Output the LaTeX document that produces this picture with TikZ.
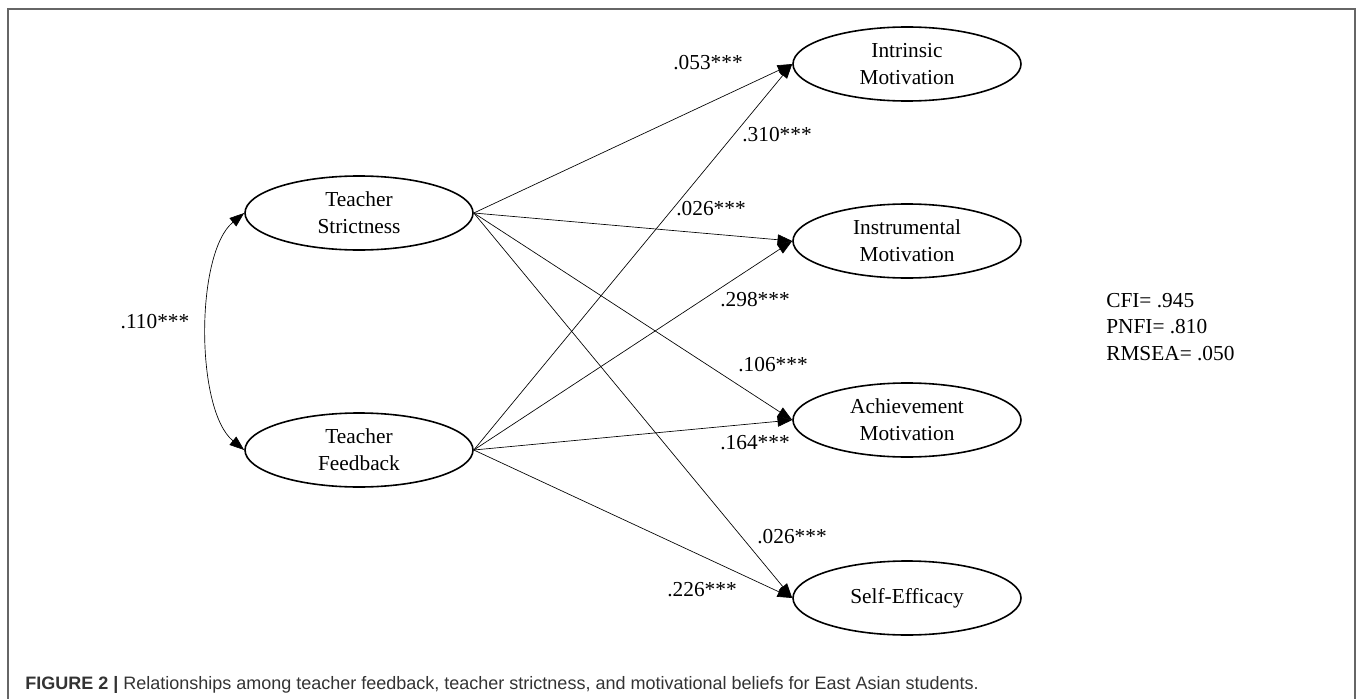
\documentclass[tikz,border=0pt]{standalone}
\usepackage{fontspec}
\setmainfont{Liberation Serif}
\newfontfamily\capfont{Liberation Sans}
\usetikzlibrary{arrows.meta,shapes.geometric,calc}
\begin{document}
\begin{tikzpicture}[x=0.75pt,y=-0.75pt,
  latent/.style={ellipse,draw,line width=1.2pt,minimum width=171pt,minimum height=55.5pt,
    inner sep=0pt,align=center,font=\fontsize{16}{20}\selectfont},
  tip/.tip={Triangle[length=11pt,width=8pt]},
  arr/.style={-tip,line width=0.5pt},
  coef/.style={inner sep=0pt,font=\fontsize{16}{20}\selectfont},
  frameline/.style={draw=black!60,line width=1.1pt}
]
\useasboundingbox (0,0) rectangle (1357,699);
\draw[frameline] (8,699) -- (8,9) -- (1355,9) -- (1355,699);

\node[latent] (ts) at (359,213) {Teacher\\Strictness};
\node[latent] (tf) at (359,450) {Teacher\\Feedback};
\node[latent] (im) at (907,64) {Intrinsic\\Motivation};
\node[latent] (ins) at (907,241) {Instrumental\\Motivation};
\node[latent] (am) at (907,420) {Achievement\\Motivation};
\node[latent] (se) at (907,598) {Self-Efficacy};

\draw[arr] (ts.east) -- (im.west);
\draw[arr] (ts.east) -- (ins.west);
\draw[arr] (ts.east) -- (am.west);
\draw[arr] (ts.east) -- (se.west);
\draw[arr] (tf.east) -- (im.west);
\draw[arr] (tf.east) -- (ins.west);
\draw[arr] (tf.east) -- (am.west);
\draw[arr] (tf.east) -- (se.west);

\draw[tip-tip,line width=0.5pt]
  (ts.west) .. controls ($(ts.west)+(-49,40)$) and ($(tf.west)+(-49,-40)$) .. (tf.west);

\node[coef] (c1) at (708,63) {.053***};
\node[coef] (c2) at (777,135) {.310***};
\node[coef] (c3) at (711,209) {.026***};
\node[coef] (c4) at (755,300) {.298***};
\node[coef] (c5) at (773,365) {.106***};
\node[coef] (c6) at (755,443) {.164***};
\node[coef] (c7) at (792,537) {.026***};
\node[coef] (c8) at (702,590) {.226***};
\node[coef] (c9) at (155,322) {.110***};

\node[coef,anchor=west,align=left] (fit) at (1106,327) {CFI= .945\\PNFI= .810\\RMSEA= .050};

\node[anchor=base west,inner sep=0pt,text=black!80,font=\capfont\fontsize{13.5}{16}\selectfont] (cap) at (25,689)
  {\textbf{FIGURE 2 |} Relationships among teacher feedback, teacher strictness, and motivational beliefs for East Asian students.};
\end{tikzpicture}
\end{document}
